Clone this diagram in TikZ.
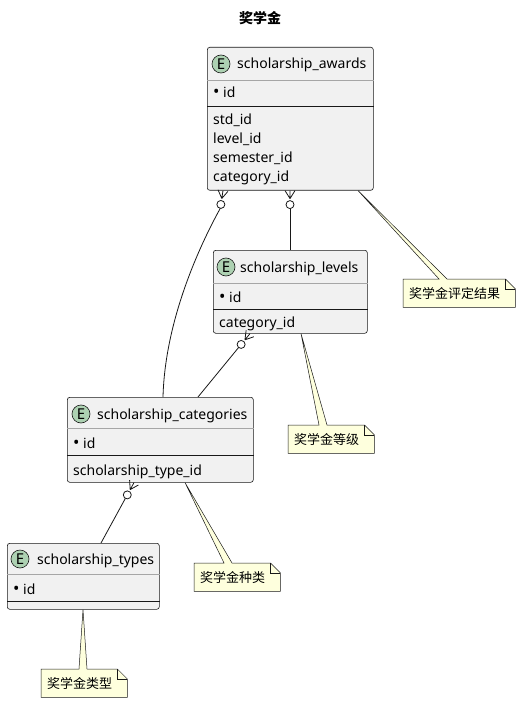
\documentclass[tikz,border=0pt]{standalone}
\usepackage{fontspec}
\setmainfont{Noto Sans}
\newfontfamily\cjk{Noto Sans CJK SC}
\usepackage{xcolor}
\usepackage{tikz}
\usetikzlibrary{calc,positioning}
\pgfdeclarelayer{background}
\pgfsetlayers{background,main}

\definecolor{entfill}{HTML}{F1F1F1}
\definecolor{entline}{HTML}{181818}
\definecolor{spotfill}{HTML}{ADD1B2}
\definecolor{notefill}{HTML}{FEFFDD}

% zero-or-many foot at #1, pointing towards #2
\newcommand{\crowfoot}[2]{%
  \draw[conn] ($(#1)!8pt!(#2)$) -- (#1)
    ($(#1)!8pt!(#2)$) -- ($(#1)!5pt!90:(#2)$)
    ($(#1)!8pt!(#2)$) -- ($(#1)!5pt!-90:(#2)$);
  \draw[conn, fill=white] ($(#1)!14pt!(#2)$) circle (4pt);
}
% note outline with its tail; #1 note node, #2 tail tip, #3/#4 tail base offsets
\newcommand{\noteshape}[4]{%
  \begin{pgfonlayer}{background}
  \draw[noteline] (#1.north west) -- ($(#1.north west)+(#3,0)$) -- (#2)
    -- ($(#1.north west)+(#4,0)$) -- ($(#1.north east)+(-1,0)$)
    -- ($(#1.north east)+(9,10)$) -- ($(#1.south east)+(9,0)$)
    -- (#1.south west) -- cycle;
  \draw[entline, line width=0.5pt] ($(#1.north east)+(-1,0)$)
    -- ($(#1.north east)+(-1,10)$) -- ($(#1.north east)+(9,10)$);
  \end{pgfonlayer}
}
\newcommand{\keydot}{{\fontsize{17}{14}\selectfont•}}

\begin{document}
\begin{tikzpicture}[x=1pt, y=-1pt,
  entity/.style={draw=entline, fill=entfill, rounded corners=2.5pt,
    line width=0.6pt, anchor=north west, inner sep=0pt},
  spot/.style={circle, draw=entline, fill=spotfill, line width=0.6pt,
    minimum size=18pt, inner sep=0pt, font=\fontsize{15}{15}\selectfont},
  ename/.style={anchor=base west, inner sep=0pt, font=\fontsize{14}{14}\selectfont},
  field/.style={anchor=base west, inner sep=0pt, font=\fontsize{14}{14}\selectfont},
  headsep/.style={draw=gray!70, line width=0.5pt},
  keysep/.style={draw=entline, line width=0.9pt},
  conn/.style={draw=entline, line width=0.8pt},
  note/.style={anchor=north west, inner xsep=6pt, inner ysep=0pt,
    minimum height=28pt, font=\cjk\fontsize{13}{13}\selectfont},
  noteline/.style={draw=entline, fill=notefill, line width=0.5pt}]
  \useasboundingbox (0,0) rectangle (520,703);

  % Title
  \node[font=\cjk\bfseries\fontsize{14}{14}\selectfont] (title) at (260,18) {奖学金};

  % scholarship_awards
  \node[entity, minimum width=166pt, minimum height=143pt] (awards) at (207,47) {};
  \node[spot] (awards-e) at (221,64) {E};
  \node[ename] (awards-name) at (237,69) {scholarship\_awards};
  \draw[headsep] (awards.west |- 0,80) -- (awards.east |- 0,80);
  \node[field] (awards-id) at (213,98) {\keydot\ id};
  \draw[keysep] (awards.west |- 0,106) -- (awards.east |- 0,106);
  \node[field] (awards-f1) at (213,125) {std\_id};
  \node[field] (awards-f2) at (213,144) {level\_id};
  \node[field] (awards-f3) at (213,163) {semester\_id};
  \node[field] (awards-f4) at (213,182) {category\_id};

  % scholarship_levels
  \node[entity, minimum width=154pt, minimum height=83pt] (levels) at (213,250) {};
  \node[spot] (levels-e) at (226,267) {E};
  \node[ename] (levels-name) at (240,272) {scholarship\_levels};
  \draw[headsep] (levels.west |- 0,283) -- (levels.east |- 0,283);
  \node[field] (levels-id) at (219,302) {\keydot\ id};
  \draw[keysep] (levels.west |- 0,309) -- (levels.east |- 0,309);
  \node[field] (levels-f1) at (219,327) {category\_id};

  % scholarship_categories
  \node[entity, minimum width=186pt, minimum height=85pt] (cats) at (67,397) {};
  \node[spot] (cats-e) at (81,414) {E};
  \node[ename] (cats-name) at (97,419) {scholarship\_categories};
  \draw[headsep] (cats.west |- 0,428) -- (cats.east |- 0,428);
  \node[field] (cats-id) at (73,448) {\keydot\ id};
  \draw[keysep] (cats.west |- 0,455) -- (cats.east |- 0,455);
  \node[field] (cats-f1) at (73,475) {scholarship\_type\_id};

  % scholarship_types
  \node[entity, minimum width=152pt, minimum height=66pt] (types) at (7,543) {};
  \node[spot] (types-e) at (20,559) {E};
  \node[ename] (types-name) at (37,564) {scholarship\_types};
  \draw[headsep] (types.west |- 0,574) -- (types.east |- 0,574);
  \node[field] (types-id) at (13,594) {\keydot\ id};
  \draw[keysep] (types.west |- 0,601) -- (types.east |- 0,601);

  % Relations
  \coordinate (aw-c) at (awards.south -| 223,0);
  \coordinate (aw-dir) at (220,210);
  \coordinate (aw-l) at (awards.south -| 290,0);
  \coordinate (lv-top) at (levels.north -| 290,0);
  \coordinate (lv-c) at (levels.south -| 250,0);
  \coordinate (ca-top1) at (cats.north -| 163,0);
  \coordinate (ca-top2) at (cats.north -| 198,0);
  \coordinate (ca-t) at (cats.south -| 134,0);
  \coordinate (ty-top) at (types.north -| 101,0);

  \crowfoot{aw-c}{aw-dir}
  \draw[conn] ($(aw-c)!18pt!(aw-dir)$) .. controls (200,245) and (165,320) .. (ca-top1);
  \crowfoot{aw-l}{lv-top}
  \draw[conn] ($(aw-l)!18pt!(lv-top)$) -- (lv-top);
  \crowfoot{lv-c}{ca-top2}
  \draw[conn] ($(lv-c)!18pt!(ca-top2)$) -- (ca-top2);
  \crowfoot{ca-t}{ty-top}
  \draw[conn] ($(ca-t)!18pt!(ty-top)$) -- (ty-top);

  % Notes
  \node[note] (n-awards) at (403,279) {奖学金评定结果};
  \node[note] (n-levels) at (288,425) {奖学金等级};
  \node[note] (n-cats) at (194,563) {奖学金种类};
  \node[note] (n-types) at (41,669) {奖学金类型};
  \coordinate (aw-tip) at (awards.south -| 358,0);
  \coordinate (lv-tip) at (levels.south -| 301,0);
  \coordinate (ca-tip) at (cats.south -| 185,0);
  \coordinate (ty-tip) at (types.south -| 83,0);
  \noteshape{n-awards}{aw-tip}{36}{44}
  \noteshape{n-levels}{lv-tip}{31}{39}
  \noteshape{n-cats}{ca-tip}{30}{38}
  \noteshape{n-types}{ty-tip}{38}{46}
\end{tikzpicture}
\end{document}
